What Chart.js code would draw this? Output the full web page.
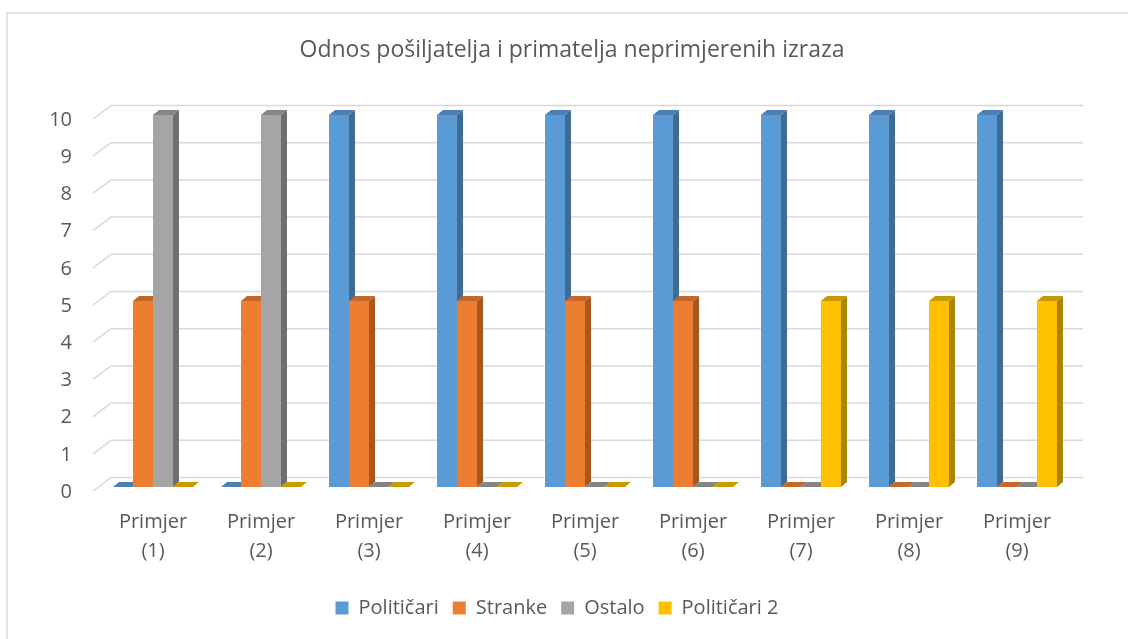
<!DOCTYPE html>
<html>
<head>
<meta charset="utf-8">
<script src="https://cdn.jsdelivr.net/npm/chart.js@4.4.1/dist/chart.umd.min.js"></script>
<style>
    html, body { margin: 0; padding: 0; background: #fff; }
    #wrap { position: relative; width: 1128px; height: 639px; }
</style>
</head>
<body>
<div id="wrap"><canvas id="chart" width="1128" height="639"></canvas></div>
<script>
// Chart data
const chartTitle = 'Odnos pošiljatelja i primatelja neprimjerenih izraza';
const categories = [
    ['Primjer', '(1)'], ['Primjer', '(2)'], ['Primjer', '(3)'],
    ['Primjer', '(4)'], ['Primjer', '(5)'], ['Primjer', '(6)'],
    ['Primjer', '(7)'], ['Primjer', '(8)'], ['Primjer', '(9)']
];
const seriesNames = ['Političari', 'Stranke', 'Ostalo', 'Političari 2'];
const politicari = [0, 0, 10, 10, 10, 10, 10, 10, 10];
const stranke = [5, 5, 5, 5, 5, 5, 0, 0, 0];
const ostalo = [10, 10, 0, 0, 0, 0, 0, 0, 0];
const politicari2 = [0, 0, 0, 0, 0, 0, 5, 5, 5];
const yTicks = [0, 1, 2, 3, 4, 5, 6, 7, 8, 9, 10];

// face colours: front, side, top
const faces = [
    { front: '#5B9BD5', side: '#3E6B95', top: '#4C80B3' },
    { front: '#ED7D31', side: '#A9571F', top: '#C4662A' },
    { front: '#A5A5A5', side: '#6E6E6E', top: '#858585' },
    { front: '#FFC000', side: '#AD8400', top: '#C99A00' }
];

const FONT = '"Open Sans", "Noto Sans", sans-serif';
const TEXT = '#595959';
const DX = 6, DY = -5; // bar depth

// frame, title and 3d gridlines behind the bars
const wallPlugin = {
    id: 'wall',
    beforeDatasetsDraw(chart) {
        const ctx = chart.ctx;
        const y = chart.scales.y;
        const area = chart.chartArea;
        ctx.save();
        ctx.strokeStyle = '#D9D9D9';
        ctx.lineWidth = 1.5;
        yTicks.forEach(v => {
            const py = y.getPixelForValue(v);
            ctx.beginPath();
            ctx.moveTo(area.left - 6, py + 4);
            ctx.lineTo(area.left + 12, py - 9.5);
            ctx.lineTo(area.right + 12, py - 9.5);
            ctx.stroke();
        });
        ctx.restore();
    },
    beforeDraw(chart) {
        const ctx = chart.ctx;
        ctx.save();
        ctx.strokeStyle = '#D9D9D9';
        ctx.lineWidth = 1.5;
        ctx.beginPath();
        ctx.moveTo(7, 700);
        ctx.lineTo(7, 13);
        ctx.lineTo(1200, 13);
        ctx.stroke();
        // title
        ctx.fillStyle = TEXT;
        ctx.font = '23px ' + FONT;
        ctx.textAlign = 'center';
        ctx.textBaseline = 'middle';
        ctx.fillText(chartTitle, 572, 50);
        ctx.restore();
    }
};

// draw bars as 3d blocks, category by category so neighbours overlap right
const blockPlugin = {
    id: 'blocks',
    beforeDatasetDraw() {
        return false;
    },
    afterDatasetsDraw(chart) {
        const ctx = chart.ctx;
        ctx.save();
        for (let i = 0; i < categories.length; i++) {
            chart.data.datasets.forEach((ds, d) => {
                const bar = chart.getDatasetMeta(d).data[i];
                const c = faces[d];
                const l = bar.x - bar.width / 2;
                const r = bar.x + bar.width / 2;
                const top = Math.min(bar.y, bar.base);
                const base = Math.max(bar.y, bar.base);
                if (base - top < 1) {
                    ctx.fillStyle = c.top;
                    ctx.beginPath();
                    ctx.moveTo(l, base);
                    ctx.lineTo(r, base);
                    ctx.lineTo(r + DX, base + DY);
                    ctx.lineTo(l + DX, base + DY);
                    ctx.closePath();
                    ctx.fill();
                    return;
                }
                ctx.fillStyle = c.front;
                ctx.fillRect(l, top, r - l, base - top);
                ctx.fillStyle = c.side;
                ctx.beginPath();
                ctx.moveTo(r, top);
                ctx.lineTo(r + DX, top + DY);
                ctx.lineTo(r + DX, base + DY);
                ctx.lineTo(r, base);
                ctx.closePath();
                ctx.fill();
                ctx.fillStyle = c.top;
                ctx.beginPath();
                ctx.moveTo(l, top);
                ctx.lineTo(r, top);
                ctx.lineTo(r + DX, top + DY);
                ctx.lineTo(l + DX, top + DY);
                ctx.closePath();
                ctx.fill();
            });
        }
        ctx.restore();
    }
};

const allSeries = [politicari, stranke, ostalo, politicari2];

new Chart(document.getElementById('chart'), {
    type: 'bar',
    data: {
        labels: categories,
        datasets: allSeries.map((vals, d) => ({
            label: seriesNames[d],
            data: vals,
            backgroundColor: faces[d].front,
            borderWidth: 0,
            categoryPercentage: 0.74,
            barPercentage: 1.0
        }))
    },
    options: {
        responsive: false,
        animation: false,
        layout: { padding: { left: 43, right: 57, top: 115, bottom: 11 } },
        plugins: {
            title: { display: false },
            legend: {
                position: 'bottom',
                labels: {
                    color: TEXT,
                    font: { family: FONT, size: 20 },
                    boxWidth: 13,
                    boxHeight: 13,
                    padding: 14
                }
            },
            tooltip: { enabled: false }
        },
        scales: {
            x: {
                grid: { display: false, drawTicks: false },
                border: { display: false },
                ticks: {
                    color: TEXT,
                    font: { family: FONT, size: 20, lineHeight: 1.45 },
                    padding: 21,
                    maxRotation: 0,
                    autoSkip: false
                },
                afterFit(scale) { scale.height = 97; }
            },
            y: {
                min: 0,
                max: 10,
                grid: { display: false, drawTicks: false },
                border: { display: false },
                ticks: {
                    stepSize: 1,
                    color: TEXT,
                    font: { family: FONT, size: 20 },
                    padding: 27,
                    labelOffset: 5
                },
                afterFit(scale) { scale.width = 99 - 43; }
            }
        }
    },
    plugins: [wallPlugin, blockPlugin]
});
</script>
</body>
</html>
